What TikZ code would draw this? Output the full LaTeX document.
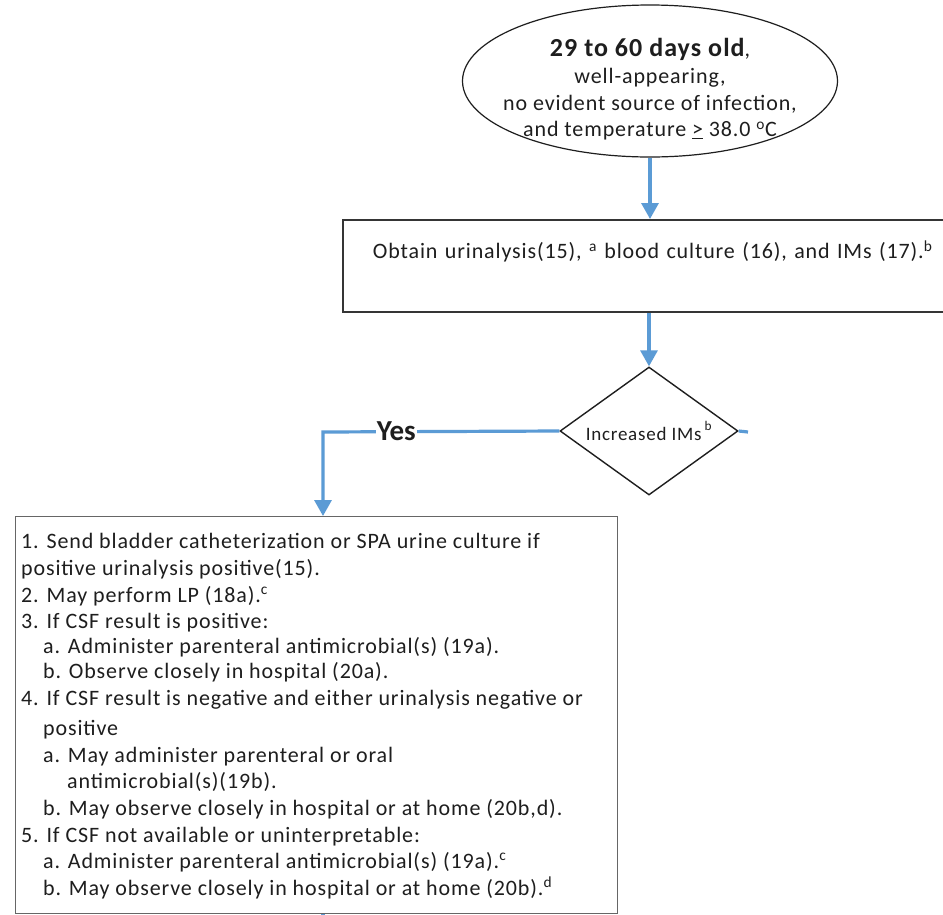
\documentclass[tikz,border=0pt]{standalone}
\usepackage{fontspec}
\setmainfont{Carlito}
\newfontfamily\bodyfont[LetterSpace=4]{Carlito}
\usetikzlibrary{arrows.meta,shapes.geometric}
\definecolor{flowblue}{HTML}{5B9BD5}
\definecolor{ink}{HTML}{1E1E1E}

\begin{document}
\begin{tikzpicture}[x=1pt,y=-1pt,
  flow/.style={draw=flowblue,line width=3.2pt,-{Triangle[width=17pt,length=16pt]}},
  stub/.style={draw=flowblue,line width=3.2pt},
  body/.style={anchor=base west,inner sep=0pt,text=ink,font=\bodyfont\fontsize{22}{26}\selectfont},
  yeslabel/.style={fill=white,inner xsep=1pt,inner ysep=0pt,text=ink,font=\bfseries\fontsize{29}{30}\selectfont},
]
\useasboundingbox (0,0) rectangle (943,914);
\fill[white] (0,0) rectangle (943,914);
\clip (0,0) rectangle (943,914);

% entry criteria
\node[ellipse,draw=ink,line width=1.2pt,minimum width=375pt,minimum height=152pt,inner sep=0pt] (start) at (650,81) {};
\node[align=center,inner sep=0pt,text=ink,font=\bodyfont\fontsize{22}{26.5}\selectfont] (starttxt) at (650,89)
  {{\bfseries\fontsize{26}{28}\selectfont 29 to 60 days old},\\[1pt]
   well-appearing,\\
   no evident source of infection,\\
   and temperature \underline{>} 38.0 \textsuperscript{o}C};

% initial tests (the box runs on past the right margin)
\node[draw=ink!90,line width=1.8pt,anchor=north west,minimum width=640pt,minimum height=92pt,
      text width=580pt,inner xsep=30pt,inner ysep=0pt,align=left,text height=17pt,text depth=31pt,
      text=ink,font=\bodyfont\fontsize{22}{26}\selectfont] (obtain) at (342,219)
  {Obtain urinalysis(15), \textsuperscript{a} blood culture (16), and IMs (17).\textsuperscript{b}};

% decision: the label is boxed at zero width so the diamond keeps its own size
\node[diamond,draw=ink,line width=1.4pt,minimum width=178pt,minimum height=128pt,inner sep=0pt,
      text=ink,font=\bodyfont\fontsize{19}{21}\selectfont] (ims) at (649,431)
  {\makebox[0pt][c]{Increased IMs\,\raisebox{3pt}{\textsuperscript{b}}}};

% management plan
\node[draw=black!60,line width=1.4pt,anchor=north west,minimum width=602pt,minimum height=397pt,inner sep=0pt] (plan) at (15,516) {};
\node[body] (l1)  at (21,548) {1. Send bladder catheterization or SPA urine culture if};
\node[body] (l2)  at (21,575) {positive urinalysis positive(15).};
\node[body] (l3)  at (21,602) {2. May perform LP (18a).\textsuperscript{c}};
\node[body] (l4)  at (21,628) {3. If CSF result is positive:};
\node[body] (l5)  at (43,653) {a. Administer parenteral antimicrobial(s) (19a).};
\node[body] (l6)  at (43,678) {b. Observe closely in hospital (20a).};
\node[body] (l7)  at (21,705) {4. If CSF result is negative and either urinalysis negative or};
\node[body] (l8)  at (43,735) {positive};
\node[body] (l9)  at (43,762) {a. May administer parenteral or oral};
\node[body] (l10) at (67,788) {antimicrobial(s)(19b).};
\node[body] (l11) at (43,815) {b. May observe closely in hospital or at home (20b,d).};
\node[body] (l12) at (21,842) {5. If CSF not available or uninterpretable:};
\node[body] (l13) at (43,868) {a. Administer parenteral antimicrobial(s) (19a).\textsuperscript{c}};
\node[body] (l14) at (43,895) {b. May observe closely in hospital or at home (20b).\textsuperscript{d}};

% connectors
\coordinate (bend) at (323,432);
\coordinate (noend) at (748,432);
\coordinate (next) at (323,930);
\draw[flow] (start.south) -- (start.south |- obtain.north);
\draw[flow] (obtain.south -| ims.north) -- (ims.north);
\draw[flow] (ims.west) -- node[pos=0.69,yeslabel] (yes) {Yes} (bend) -- (bend |- plan.north);
\draw[stub] (ims.east) -- (noend);
\draw[stub] (plan.south -| next) -- (next);
\end{tikzpicture}
\end{document}
